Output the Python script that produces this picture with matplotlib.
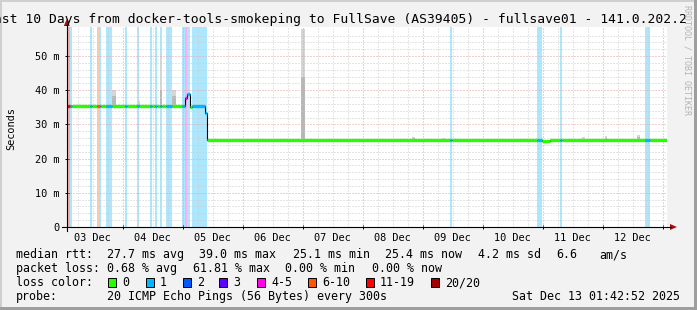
import numpy as np
import matplotlib
matplotlib.use("Agg")
import matplotlib.pyplot as plt
from matplotlib.patches import Rectangle, Polygon
from matplotlib.lines import Line2D

W, H = 697, 310
MONO = "DejaVu Sans Mono"

# time = hours since 03 Dec 00:00, rtt in ms
t_start, t_end = 1.714, 241.714

# median rtt, step values (value holds from each time until the next)
median_t = [1.7, 49.0, 49.7, 51.0, 51.7, 56.9, 57.8, 191.7, 195.0]
median_ms = [35.3, 37.6, 39.0, 35.1, 35.3, 33.2, 25.4, 25.1, 25.4]

# periods with packet loss (bucket = index into loss_labels)
loss_from = [1.72, 3.0, 11.1, 13.8, 14.9, 17.2, 25.1, 29.9, 35.0, 37.0, 39.0, 41.2,
             47.8, 49.0, 49.8, 51.7, 155.0, 189.7, 199.0, 233.0]
loss_to = [3.0, 3.8, 11.8, 14.9, 15.5, 19.8, 25.8, 30.7, 35.7, 37.7, 39.7, 43.7,
           49.0, 49.8, 51.0, 57.7, 155.7, 191.7, 199.7, 235.0]
loss_bucket = [6, 1, 1, 5, 1, 1, 1, 1, 1, 1, 1, 1, 1, 4, 1, 1, 1, 1, 1, 1]

loss_labels = ["0", "1", "2", "3", "4-5", "6-10", "11-19", "20/20"]
loss_colors = ["#26ff00", "#00b8ff", "#0059ff", "#5e00ff",
               "#ff00ea", "#ff5500", "#ff0000", "#a10000"]

# smoke (spread of the pings) where it is visible above the median
smoke_from = [19.8, 29.8, 39.0, 43.7, 95.4, 139.7, 151.7, 207.8, 217.0, 229.7]
smoke_to = [21.4, 30.8, 39.8, 45.4, 97.0, 141.0, 153.0, 209.0, 217.7, 231.0]
smoke_top = [40.0, 36.8, 51.0, 40.0, 58.0, 26.3, 26.0, 26.4, 26.5, 26.8]
smoke_mid = [38.3, 36.0, 40.0, 38.3, 44.0, 25.9, 25.7, 25.8, 25.9, 26.2]

day_labels = ["03 Dec", "04 Dec", "05 Dec", "06 Dec", "07 Dec",
              "08 Dec", "09 Dec", "10 Dec", "11 Dec", "12 Dec"]

rtt_avg, rtt_max, rtt_min, rtt_now, rtt_sd, am_s = 27.7, 39.0, 25.1, 25.4, 4.2, 6.6
loss_avg, loss_max, loss_min, loss_now = 0.68, 61.81, 0.00, 0.00

title = "Last 10 Days from docker-tools-smokeping to FullSave (AS39405) - fullsave01 - 141.0.202.2"


def fx(x):
    return x / W


def fy(y):
    return 1 - y / H


def median_at(t):
    i = np.searchsorted(median_t, t, side="right") - 1
    return np.asarray(median_ms)[np.clip(i, 0, len(median_ms) - 1)]


def bucket_at(t):
    k = 0
    for a, b, bk in zip(loss_from, loss_to, loss_bucket):
        if a <= t < b:
            k = bk
    return k


fig = plt.figure(figsize=(W / 100, H / 100), dpi=100, facecolor="#f2f2f2")
ax = fig.add_axes([fx(66.8), fy(227), 600 / W, 200 / H])
ax.set_facecolor("white")
ax.set_xlim(t_start, t_end)
ax.set_ylim(0, 58.5)
for s in ax.spines.values():
    s.set_visible(False)

# loss background
for a, b, k in zip(loss_from, loss_to, loss_bucket):
    ax.axvspan(a, b, color=loss_colors[k], alpha=0.33, lw=0, zorder=1)

# smoke
s_from = np.array(smoke_from)
s_w = np.array(smoke_to) - s_from
s_base = median_at(s_from + s_w / 2)
ax.bar(s_from, np.array(smoke_top) - s_base, width=s_w, bottom=s_base,
       align="edge", color="#d6d6d6", lw=0, zorder=1.5)
ax.bar(s_from, np.array(smoke_mid) - s_base, width=s_w, bottom=s_base,
       align="edge", color="#b8b8b8", lw=0, zorder=1.6)

# grid
dot = (0, (1, 2))
minor_v = [h for h in np.arange(6, 242, 6) if h % 24 != 0]
ax.vlines(minor_v, 0, 58.5, colors="#cccccc", lw=0.72, linestyles=dot, zorder=2.5)
ax.vlines(np.arange(24, 241, 24), 0, 58.5, colors="#e3a0a0", lw=0.72, linestyles=dot, zorder=2.5)
minor_h = [v for v in np.arange(2, 58, 2) if v % 10 != 0]
ax.hlines(minor_h, t_start, t_end, colors="#cccccc", lw=0.72, linestyles=dot, zorder=2.5)
ax.hlines(np.arange(10, 51, 10), t_start, t_end, colors="#e3a0a0", lw=0.72, linestyles=dot, zorder=2.5)

# median: thin black step + thick loss-coloured runs
ax.step(median_t + [t_end], median_ms + [median_ms[-1]], where="post",
        color="black", lw=0.8, zorder=3)
cuts = sorted(set([t_start, t_end] + [t for t in median_t if t_start < t < t_end]
                  + [t for t in loss_from + loss_to if t_start < t < t_end]))
run_l, run_r, run_v, run_c = [], [], [], []
for a, b in zip(cuts[:-1], cuts[1:]):
    m = (a + b) / 2
    v, c = float(median_at(m)), loss_colors[bucket_at(m)]
    if run_v and run_v[-1] == v and run_c[-1] == c and run_r[-1] == a:
        run_r[-1] = b
    else:
        run_l.append(a)
        run_r.append(b)
        run_v.append(v)
        run_c.append(c)
ax.hlines(run_v, run_l, run_r, colors=run_c, lw=2.4, zorder=4, capstyle="butt")

# ticks
ax.set_xticks(np.arange(12, 240, 24))
ax.set_xticklabels(day_labels, family=MONO, fontsize=7.4)
ax.set_xticks(np.arange(24, 241, 24), minor=True)
ax.tick_params(axis="x", which="major", length=0, pad=4.0)
ax.tick_params(axis="x", which="minor", length=3, direction="inout", width=0.7)
ax.set_yticks(np.arange(0, 51, 10))
ax.set_yticklabels(["0"] + [f"{v} m" for v in range(10, 51, 10)], family=MONO, fontsize=7.4)
ax.tick_params(axis="y", length=3, direction="inout", width=0.7, pad=4.0)

# axes lines with red arrow heads
fig.add_artist(Line2D([fx(62), fx(671)], [fy(227), fy(227)], color="black", lw=0.8))
fig.add_artist(Line2D([fx(66.8), fx(66.8)], [fy(231), fy(25)], color="black", lw=0.8))
fig.add_artist(Polygon([(fx(670), fy(224)), (fx(677), fy(227)), (fx(670), fy(230))],
                       closed=True, color="#a01010", lw=0))
fig.add_artist(Polygon([(fx(63.8), fy(26)), (fx(66.8), fy(19)), (fx(69.8), fy(26))],
                       closed=True, color="#a01010", lw=0))

# titles
fig.text(fx(-13.9), fy(23.5), title, family=MONO, fontsize=9.33, va="baseline", ha="left")
fig.text(fx(11), fy(129), "Seconds", family=MONO, fontsize=7.4, rotation=90,
         ha="center", va="center")
fig.text(fx(687.5), fy(60), "RRDTOOL / TOBI OETIKER", family=MONO, fontsize=6,
         rotation=270, ha="center", va="center", color="#b4b4b4")

# legend block
row_y = [258.3, 272.3, 286.3, 300.3]
fs = 8.35
rows = [
    [(16.7, "median rtt:"), (107.3, f"{rtt_avg:.1f} ms avg"), (200.0, f"{rtt_max:.1f} ms max"),
     (293.3, f"{rtt_min:.1f} ms min"), (386.0, f"{rtt_now:.1f} ms now"),
     (478.3, f"{rtt_sd:.1f} ms sd"), (556.7, f"{am_s:.1f}"), (600.0, "am/s")],
    [(16.7, "packet loss:"), (107.3, f"{loss_avg:.2f} % avg"), (193.3, f"{loss_max:.2f} % max"),
     (286.0, f"{loss_min:.2f} % min"), (372.3, f"{loss_now:.2f} % now")],
    [(16.7, "loss color:")],
    [(16.7, "probe:"), (107.3, "20 ICMP Echo Pings (56 Bytes) every 300s")],
]
for yy, row in zip(row_y, rows):
    for xx, txt in row:
        fig.text(fx(xx - 0.7), fy(yy), txt, family=MONO, fontsize=fs, va="baseline", ha="left")
fig.text(fx(680.5), fy(row_y[3]), "Sat Dec 13 01:42:52 2025", family=MONO, fontsize=fs,
         va="baseline", ha="right")

box_x = [108.3, 145.7, 182.7, 219.3, 256.7, 307.7, 365.7, 430.7]
for bx, lab, col in zip(box_x, loss_labels, loss_colors):
    fig.add_artist(Rectangle((fx(bx), fy(286.5)), 8 / W, 8.5 / H, facecolor=col,
                             edgecolor="black", lw=0.7))
    fig.text(fx(bx + 14.3), fy(row_y[2]), lab, family=MONO, fontsize=fs,
             va="baseline", ha="left")

# 3d frame
fig.add_artist(Rectangle((0, fy(2)), 1, 2 / H, color="#cfcfcf", lw=0))
fig.add_artist(Rectangle((0, 0), 2 / W, 1, color="#cfcfcf", lw=0))
fig.add_artist(Rectangle((0, 0), 1, 3 / H, color="#9e9e9e", lw=0))
fig.add_artist(Rectangle((fx(694), 0), 3 / W, 1, color="#9e9e9e", lw=0))

fig.savefig("out.png", dpi=100, facecolor=fig.get_facecolor())
